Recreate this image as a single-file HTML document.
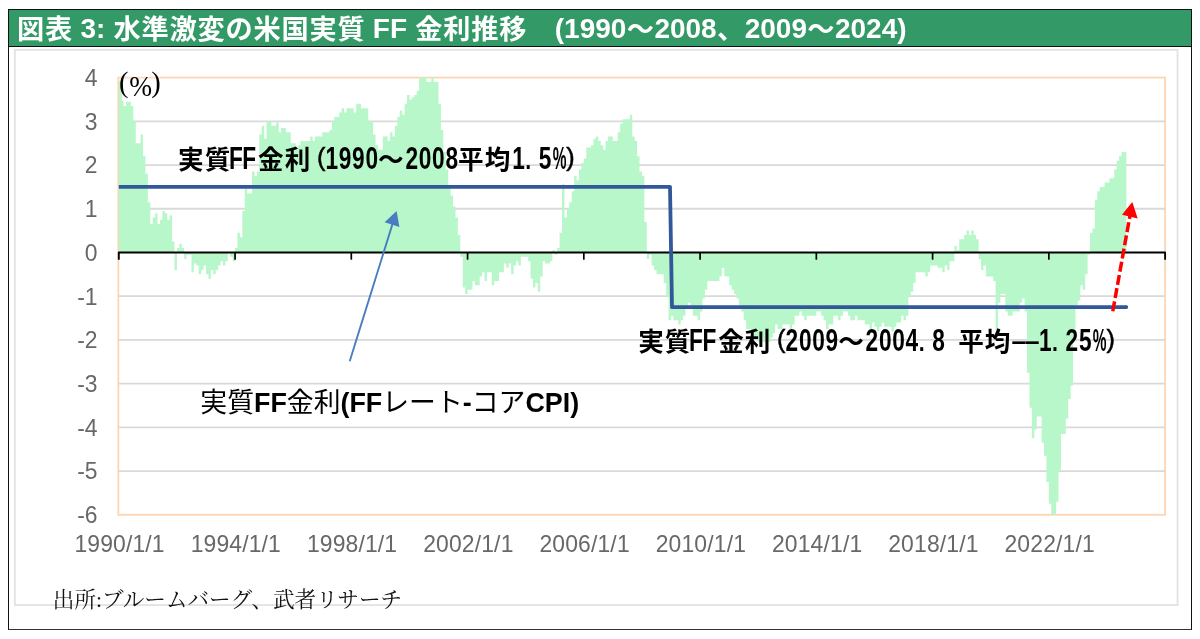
<!DOCTYPE html>
<html lang="ja"><head><meta charset="utf-8"><title>図表 3</title>
<style>
html,body{margin:0;padding:0;background:#fff;}
body{width:1200px;height:639px;overflow:hidden;position:relative;font-family:"Liberation Sans","Noto Sans CJK JP",sans-serif;}
#frame{position:absolute;box-sizing:border-box;left:7.8px;top:8.9px;width:1184.3px;height:620.8px;border-style:solid;border-color:#111 #111 #333 #111;border-width:1.1px 1.2px 1.85px 1.6px;}
#hdr{position:absolute;left:9.2px;top:9.8px;width:1181.8px;height:35.8px;background:#339966;border-bottom:1.3px solid #111;}
#title{position:absolute;left:16.7px;top:10.6px;height:36px;line-height:36px;color:#fff;font-weight:bold;font-size:28.0px;white-space:pre;}
#title .k{font-size:27.2px;letter-spacing:0.8px;position:relative;left:0.4px;top:1.5px;}
#inner{position:absolute;box-sizing:border-box;left:14.1px;top:48.8px;width:1164.1px;height:557px;border:1.5px solid #dcdcdc;}
svg{position:absolute;left:0;top:0;}
.ax{font-family:"Liberation Sans",sans-serif;font-size:22.9px;fill:#686868;}
.xl{letter-spacing:0.15px;}
.gc{font-family:"Liberation Sans","Noto Sans CJK JP",sans-serif;font-weight:bold;font-size:25.6px;fill:#000;}
.pc{font-family:"Liberation Serif",serif;font-size:28.55px;fill:#000;}
.gp{font-family:"Liberation Sans",sans-serif;font-weight:normal;font-size:26.67px;fill:#000;stroke:#000;stroke-width:0.5px;}
.gl{font-family:"Liberation Sans","Noto Sans CJK JP",sans-serif;font-weight:bold;font-size:26.67px;fill:#000;}
.lab{position:absolute;white-space:pre;color:#000;}
#l3{left:200.3px;top:384.8px;font-size:26.85px;line-height:36px;font-weight:400;}
#l3 b{font-weight:bold;}
#src{left:52.8px;top:585.4px;font-family:"Liberation Serif","Noto Serif CJK JP","Noto Serif CJK SC",serif;font-size:21.6px;line-height:30px;color:#111;}
</style></head><body>
<div id="frame"></div>
<div id="hdr"></div>
<div id="title"><span class="k">図表</span> 3: <span class="k">水準激変の米国実質</span> FF <span class="k">金利推移　</span>(1990<span class="k">～</span>2008<span class="k">、</span>2009<span class="k">～</span>2024)</div>
<svg width="1200" height="639" viewBox="0 0 1200 639">
<rect x="14.85" y="49.85" width="1162.7" height="555.2" fill="none" stroke="#e2e2e2" stroke-width="1.8"/>
<rect x="118.35" y="77.6" width="1046.70" height="437.20" fill="none" stroke="#fdd5b3" stroke-width="1.8"/>
<line x1="118.8" x2="1165.1" y1="471.08" y2="471.08" stroke="#d9d9d9" stroke-width="1.8"/>
<line x1="118.8" x2="1165.1" y1="427.36" y2="427.36" stroke="#d9d9d9" stroke-width="1.8"/>
<line x1="118.8" x2="1165.1" y1="383.64" y2="383.64" stroke="#d9d9d9" stroke-width="1.8"/>
<line x1="118.8" x2="1165.1" y1="339.92" y2="339.92" stroke="#d9d9d9" stroke-width="1.8"/>
<line x1="118.8" x2="1165.1" y1="296.20" y2="296.20" stroke="#d9d9d9" stroke-width="1.8"/>
<line x1="118.8" x2="1165.1" y1="208.76" y2="208.76" stroke="#d9d9d9" stroke-width="1.8"/>
<line x1="118.8" x2="1165.1" y1="165.04" y2="165.04" stroke="#d9d9d9" stroke-width="1.8"/>
<line x1="118.8" x2="1165.1" y1="121.32" y2="121.32" stroke="#d9d9d9" stroke-width="1.8"/>

<path d="M118.80 81.10H121.22V252.48H118.80ZM121.22 92.90H123.64V252.48H121.22ZM123.64 106.02H126.07V252.48H123.64ZM126.07 101.65H128.49V252.48H126.07ZM128.49 101.65H130.91V252.48H128.49ZM130.91 106.02H133.33V252.48H130.91ZM133.33 121.32H135.75V252.48H133.33ZM135.75 143.18H138.18V252.48H135.75ZM138.18 143.18H140.60V252.48H138.18ZM140.60 134.44H143.02V252.48H140.60ZM143.02 156.30H145.44V252.48H143.02ZM145.44 173.78H147.86V252.48H145.44ZM147.86 202.20H150.29V252.48H147.86ZM150.29 224.06H152.71V252.48H150.29ZM152.71 217.50H155.13V252.48H152.71ZM155.13 213.13H157.55V252.48H155.13ZM157.55 224.06H159.97V252.48H157.55ZM159.97 219.69H162.40V252.48H159.97ZM162.40 210.95H164.82V252.48H162.40ZM164.82 213.13H167.24V252.48H164.82ZM167.24 219.69H169.66V252.48H167.24ZM169.66 215.32H172.08V252.48H169.66ZM172.08 241.55H174.51V252.48H172.08ZM174.51 252.48H176.93V269.97H174.51ZM176.93 248.11H179.35V252.48H176.93ZM179.35 243.74H181.77V252.48H179.35ZM181.77 248.11H184.19V252.48H181.77ZM184.19 252.48H186.62V259.04H184.19ZM186.62 252.48H189.04V254.67H186.62ZM189.04 252.48H191.46V254.67H189.04ZM191.46 252.48H193.88V272.15H191.46ZM193.88 252.48H196.30V263.41H193.88ZM196.30 252.48H198.73V265.60H196.30ZM198.73 252.48H201.15V274.34H198.73ZM201.15 252.48H203.57V269.97H201.15ZM203.57 252.48H205.99V265.60H203.57ZM205.99 252.48H208.41V274.34H205.99ZM208.41 252.48H210.84V278.71H208.41ZM210.84 252.48H213.26V269.97H210.84ZM213.26 252.48H215.68V274.34H213.26ZM215.68 252.48H218.10V269.97H215.68ZM218.10 252.48H220.52V265.60H218.10ZM220.52 252.48H222.95V261.22H220.52ZM222.95 252.48H225.37V265.60H222.95ZM225.37 252.48H227.79V261.22H225.37ZM227.79 252.48H230.21V252.48H227.79ZM230.21 252.48H232.63V256.85H230.21ZM232.63 252.48H235.06V261.22H232.63ZM235.06 248.11H237.48V252.48H235.06ZM237.48 232.81H239.90V252.48H237.48ZM239.90 237.18H242.32V252.48H239.90ZM242.32 210.95H244.74V252.48H242.32ZM244.74 189.09H247.17V252.48H244.74ZM247.17 193.46H249.59V252.48H247.17ZM249.59 193.46H252.01V252.48H249.59ZM252.01 171.60H254.43V252.48H252.01ZM254.43 175.97H256.85V252.48H254.43ZM256.85 171.60H259.28V252.48H256.85ZM259.28 134.44H261.70V252.48H259.28ZM261.70 125.69H264.12V252.48H261.70ZM264.12 138.81H266.54V252.48H264.12ZM266.54 121.32H268.96V252.48H266.54ZM268.96 121.32H271.39V252.48H268.96ZM271.39 125.69H273.81V252.48H271.39ZM273.81 125.69H276.23V252.48H273.81ZM276.23 121.32H278.65V252.48H276.23ZM278.65 132.25H281.07V252.48H278.65ZM281.07 127.88H283.50V252.48H281.07ZM283.50 127.88H285.92V252.48H283.50ZM285.92 132.25H288.34V252.48H285.92ZM288.34 132.25H290.76V252.48H288.34ZM290.76 143.18H293.18V252.48H290.76ZM293.18 143.18H295.61V252.48H293.18ZM295.61 149.74H298.03V252.48H295.61ZM298.03 145.37H300.45V252.48H298.03ZM300.45 140.99H302.87V252.48H300.45ZM302.87 140.99H305.29V252.48H302.87ZM305.29 140.99H307.72V252.48H305.29ZM307.72 140.99H310.14V252.48H307.72ZM310.14 136.62H312.56V252.48H310.14ZM312.56 140.99H314.98V252.48H312.56ZM314.98 136.62H317.40V252.48H314.98ZM317.40 136.62H319.83V252.48H317.40ZM319.83 136.62H322.25V252.48H319.83ZM322.25 132.25H324.67V252.48H322.25ZM324.67 132.25H327.09V252.48H324.67ZM327.09 132.25H329.51V252.48H327.09ZM329.51 130.06H331.94V252.48H329.51ZM331.94 121.32H334.36V252.48H331.94ZM334.36 116.95H336.78V252.48H334.36ZM336.78 116.95H339.20V252.48H336.78ZM339.20 112.58H341.62V252.48H339.20ZM341.62 108.20H344.05V252.48H341.62ZM344.05 112.58H346.47V252.48H344.05ZM346.47 108.20H348.89V252.48H346.47ZM348.89 108.20H351.31V252.48H348.89ZM351.31 108.20H353.73V252.48H351.31ZM353.73 112.58H356.16V252.48H353.73ZM356.16 103.83H358.58V252.48H356.16ZM358.58 103.83H361.00V252.48H358.58ZM361.00 108.20H363.42V252.48H361.00ZM363.42 108.20H365.84V252.48H363.42ZM365.84 108.20H368.27V252.48H365.84ZM368.27 121.32H370.69V252.48H368.27ZM370.69 121.32H373.11V252.48H370.69ZM373.11 134.44H375.53V252.48H373.11ZM375.53 145.37H377.95V252.48H375.53ZM377.95 149.74H380.38V252.48H377.95ZM380.38 149.74H382.80V252.48H380.38ZM382.80 136.62H385.22V252.48H382.80ZM385.22 136.62H387.64V252.48H385.22ZM387.64 140.99H390.06V252.48H387.64ZM390.06 132.25H392.48V252.48H390.06ZM392.48 136.62H394.91V252.48H392.48ZM394.91 125.69H397.33V252.48H394.91ZM397.33 116.95H399.75V252.48H397.33ZM399.75 110.39H402.17V252.48H399.75ZM402.17 114.76H404.59V252.48H402.17ZM404.59 103.83H407.02V252.48H404.59ZM407.02 95.09H409.44V252.48H407.02ZM409.44 99.46H411.86V252.48H409.44ZM411.86 97.27H414.28V252.48H411.86ZM414.28 95.09H416.70V252.48H414.28ZM416.70 90.72H419.13V252.48H416.70ZM419.13 77.60H421.55V252.48H419.13ZM421.55 77.60H423.97V252.48H421.55ZM423.97 77.60H426.39V252.48H423.97ZM426.39 81.97H428.81V252.48H426.39ZM428.81 81.97H431.24V252.48H428.81ZM431.24 77.60H433.66V252.48H431.24ZM433.66 81.97H436.08V252.48H433.66ZM436.08 81.97H438.50V252.48H436.08ZM438.50 103.83H440.92V252.48H438.50ZM440.92 130.06H443.35V252.48H440.92ZM443.35 151.92H445.77V252.48H443.35ZM445.77 169.41H448.19V252.48H445.77ZM448.19 186.90H450.61V252.48H448.19ZM450.61 195.64H453.03V252.48H450.61ZM453.03 206.57H455.46V252.48H453.03ZM455.46 217.50H457.88V252.48H455.46ZM457.88 234.99H460.30V252.48H457.88ZM460.30 252.48H462.72V256.85H460.30ZM462.72 252.48H465.14V287.46H462.72ZM465.14 252.48H467.57V294.01H465.14ZM467.57 252.48H469.99V289.64H467.57ZM469.99 252.48H472.41V289.64H469.99ZM472.41 252.48H474.83V280.90H472.41ZM474.83 252.48H477.25V285.27H474.83ZM477.25 252.48H479.68V285.27H477.25ZM479.68 252.48H482.10V276.53H479.68ZM482.10 252.48H484.52V272.15H482.10ZM484.52 252.48H486.94V280.90H484.52ZM486.94 252.48H489.36V272.15H486.94ZM489.36 252.48H491.79V272.15H489.36ZM491.79 252.48H494.21V285.27H491.79ZM494.21 252.48H496.63V280.90H494.21ZM496.63 252.48H499.05V280.90H496.63ZM499.05 252.48H501.47V272.15H499.05ZM501.47 252.48H503.90V272.15H501.47ZM503.90 252.48H506.32V263.41H503.90ZM506.32 252.48H508.74V267.78H506.32ZM508.74 252.48H511.16V263.41H508.74ZM511.16 252.48H513.58V274.34H511.16ZM513.58 252.48H516.01V265.60H513.58ZM516.01 252.48H518.43V261.22H516.01ZM518.43 252.48H520.85V265.60H518.43ZM520.85 252.48H523.27V256.85H520.85ZM523.27 252.48H525.69V256.85H523.27ZM525.69 252.48H528.12V256.85H525.69ZM528.12 252.48H530.54V261.22H528.12ZM530.54 252.48H532.96V278.71H530.54ZM532.96 252.48H535.38V287.46H532.96ZM535.38 252.48H537.80V283.08H535.38ZM537.80 252.48H540.23V291.83H537.80ZM540.23 252.48H542.65V276.53H540.23ZM542.65 252.48H545.07V261.22H542.65ZM545.07 252.48H547.49V263.41H545.07ZM547.49 252.48H549.91V263.41H547.49ZM549.91 252.48H552.34V261.22H549.91ZM552.34 250.29H554.76V252.48H552.34ZM554.76 252.48H557.18V254.67H554.76ZM557.18 248.11H559.60V252.48H557.18ZM559.60 232.81H562.02V252.48H559.60ZM562.02 184.28H564.45V252.48H562.02ZM564.45 217.50H566.87V252.48H564.45ZM566.87 208.76H569.29V252.48H566.87ZM569.29 202.20H571.71V252.48H569.29ZM571.71 191.27H574.13V252.48H571.71ZM574.13 175.97H576.56V252.48H574.13ZM576.56 180.34H578.98V252.48H576.56ZM578.98 169.41H581.40V252.48H578.98ZM581.40 162.85H583.82V252.48H581.40ZM583.82 158.48H586.24V252.48H583.82ZM586.24 147.55H588.67V252.48H586.24ZM588.67 147.55H591.09V252.48H588.67ZM591.09 145.37H593.51V252.48H591.09ZM593.51 138.81H595.93V252.48H593.51ZM595.93 136.62H598.35V252.48H595.93ZM598.35 140.99H600.78V252.48H598.35ZM600.78 145.37H603.20V252.48H600.78ZM603.20 149.74H605.62V252.48H603.20ZM605.62 140.99H608.04V252.48H605.62ZM608.04 136.62H610.46V252.48H608.04ZM610.46 136.62H612.89V252.48H610.46ZM612.89 140.99H615.31V252.48H612.89ZM615.31 140.99H617.73V252.48H615.31ZM617.73 132.25H620.15V252.48H617.73ZM620.15 123.51H622.57V252.48H620.15ZM622.57 119.13H625.00V252.48H622.57ZM625.00 119.13H627.42V252.48H625.00ZM627.42 119.13H629.84V252.48H627.42ZM629.84 114.76H632.26V252.48H629.84ZM632.26 136.62H634.68V252.48H632.26ZM634.68 140.99H637.11V252.48H634.68ZM637.11 156.30H639.53V252.48H637.11ZM639.53 171.60H641.95V252.48H639.53ZM641.95 175.97H644.37V252.48H641.95ZM644.37 221.88H646.79V252.48H644.37ZM646.79 252.48H649.22V259.04H646.79ZM649.22 252.48H651.64V254.67H649.22ZM651.64 252.48H654.06V265.60H651.64ZM654.06 252.48H656.48V269.97H654.06ZM656.48 252.48H658.90V274.34H656.48ZM658.90 252.48H661.33V274.34H658.90ZM661.33 252.48H663.75V274.34H661.33ZM663.75 252.48H666.17V283.08H663.75ZM666.17 252.48H668.59V296.20H666.17ZM668.59 252.48H671.01V320.25H668.59ZM671.01 252.48H673.44V315.87H671.01ZM673.44 252.48H675.86V320.25H673.44ZM675.86 252.48H678.28V320.25H675.86ZM678.28 252.48H680.70V324.62H678.28ZM680.70 252.48H683.12V320.25H680.70ZM683.12 252.48H685.55V315.87H683.12ZM685.55 252.48H687.97V307.13H685.55ZM687.97 252.48H690.39V302.76H687.97ZM690.39 252.48H692.81V307.13H690.39ZM692.81 252.48H695.23V315.87H692.81ZM695.23 252.48H697.66V315.87H695.23ZM697.66 252.48H700.08V320.25H697.66ZM700.08 252.48H702.50V311.50H700.08ZM702.50 252.48H704.92V298.39H702.50ZM704.92 252.48H707.34V289.64H704.92ZM707.34 252.48H709.77V280.90H707.34ZM709.77 252.48H712.19V280.90H709.77ZM712.19 252.48H714.61V280.90H712.19ZM714.61 252.48H717.03V280.90H714.61ZM717.03 252.48H719.45V280.90H717.03ZM719.45 252.48H721.88V276.53H719.45ZM721.88 252.48H724.30V267.78H721.88ZM724.30 252.48H726.72V276.53H724.30ZM726.72 252.48H729.14V276.53H726.72ZM729.14 252.48H731.56V285.27H729.14ZM731.56 252.48H733.99V289.64H731.56ZM733.99 252.48H736.41V294.01H733.99ZM736.41 252.48H738.83V298.39H736.41ZM738.83 252.48H741.25V307.13H738.83ZM741.25 252.48H743.67V311.50H741.25ZM743.67 252.48H746.10V320.25H743.67ZM746.10 252.48H748.52V328.99H746.10ZM748.52 252.48H750.94V328.99H748.52ZM750.94 252.48H753.36V333.36H750.94ZM753.36 252.48H755.78V337.73H753.36ZM755.78 252.48H758.21V337.73H755.78ZM758.21 252.48H760.63V342.11H758.21ZM760.63 252.48H763.05V337.73H760.63ZM763.05 252.48H765.47V342.11H763.05ZM765.47 252.48H767.89V342.11H765.47ZM767.89 252.48H770.32V342.11H767.89ZM770.32 252.48H772.74V337.73H770.32ZM772.74 252.48H775.16V333.36H772.74ZM775.16 252.48H777.58V324.62H775.16ZM777.58 252.48H780.00V328.99H777.58ZM780.00 252.48H782.43V328.99H780.00ZM782.43 252.48H784.85V324.62H782.43ZM784.85 252.48H787.27V324.62H784.85ZM787.27 252.48H789.69V324.62H787.27ZM789.69 252.48H792.11V328.99H789.69ZM792.11 252.48H794.54V324.62H792.11ZM794.54 252.48H796.96V315.87H794.54ZM796.96 252.48H799.38V315.87H796.96ZM799.38 252.48H801.80V311.50H799.38ZM801.80 252.48H804.22V315.87H801.80ZM804.22 252.48H806.65V320.25H804.22ZM806.65 252.48H809.07V315.87H806.65ZM809.07 252.48H811.49V315.87H809.07ZM811.49 252.48H813.91V315.87H811.49ZM813.91 252.48H816.33V315.87H813.91ZM816.33 252.48H818.76V311.50H816.33ZM818.76 252.48H821.18V311.50H818.76ZM821.18 252.48H823.60V315.87H821.18ZM823.60 252.48H826.02V320.25H823.60ZM826.02 252.48H828.44V328.99H826.02ZM828.44 252.48H830.87V324.62H828.44ZM830.87 252.48H833.29V324.62H830.87ZM833.29 252.48H835.71V315.87H833.29ZM835.71 252.48H838.13V315.87H835.71ZM838.13 252.48H840.55V320.25H838.13ZM840.55 252.48H842.98V315.87H840.55ZM842.98 252.48H845.40V311.50H842.98ZM845.40 252.48H847.82V311.50H845.40ZM847.82 252.48H850.24V315.87H847.82ZM850.24 252.48H852.66V320.25H850.24ZM852.66 252.48H855.09V320.25H852.66ZM855.09 252.48H857.51V315.87H855.09ZM857.51 252.48H859.93V320.25H857.51ZM859.93 252.48H862.35V320.25H859.93ZM862.35 252.48H864.77V320.25H862.35ZM864.77 252.48H867.20V324.62H864.77ZM867.20 252.48H869.62V324.62H867.20ZM869.62 252.48H872.04V328.99H869.62ZM872.04 252.48H874.46V322.43H872.04ZM874.46 252.48H876.88V326.80H874.46ZM876.88 252.48H879.31V331.18H876.88ZM879.31 252.48H881.73V326.80H879.31ZM881.73 252.48H884.15V322.43H881.73ZM884.15 252.48H886.57V326.80H884.15ZM886.57 252.48H888.99V326.80H886.57ZM888.99 252.48H891.42V326.80H888.99ZM891.42 252.48H893.84V331.18H891.42ZM893.84 252.48H896.26V326.80H893.84ZM896.26 252.48H898.68V322.43H896.26ZM898.68 252.48H901.10V322.43H898.68ZM901.10 252.48H903.52V315.87H901.10ZM903.52 252.48H905.95V320.25H903.52ZM905.95 252.48H908.37V315.87H905.95ZM908.37 252.48H910.79V296.20H908.37ZM910.79 252.48H913.21V291.83H910.79ZM913.21 252.48H915.63V283.08H913.21ZM915.63 252.48H918.06V272.15H915.63ZM918.06 252.48H920.48V272.15H918.06ZM920.48 252.48H922.90V272.15H920.48ZM922.90 252.48H925.32V272.15H922.90ZM925.32 252.48H927.74V276.53H925.32ZM927.74 252.48H930.17V272.15H927.74ZM930.17 252.48H932.59V265.60H930.17ZM932.59 252.48H935.01V265.60H932.59ZM935.01 252.48H937.43V265.60H935.01ZM937.43 252.48H939.85V267.78H937.43ZM939.85 252.48H942.28V267.78H939.85ZM942.28 252.48H944.70V272.15H942.28ZM944.70 252.48H947.12V265.60H944.70ZM947.12 252.48H949.54V269.97H947.12ZM949.54 252.48H951.96V261.22H949.54ZM951.96 252.48H954.39V261.22H951.96ZM954.39 245.92H956.81V252.48H954.39ZM956.81 250.29H959.23V252.48H956.81ZM959.23 239.36H961.65V252.48H959.23ZM961.65 239.36H964.07V252.48H961.65ZM964.07 234.99H966.50V252.48H964.07ZM966.50 230.62H968.92V252.48H966.50ZM968.92 234.99H971.34V252.48H968.92ZM971.34 230.62H973.76V252.48H971.34ZM973.76 234.99H976.18V252.48H973.76ZM976.18 239.36H978.61V252.48H976.18ZM978.61 252.48H981.03V259.04H978.61ZM981.03 252.48H983.45V269.97H981.03ZM983.45 252.48H985.87V265.60H983.45ZM985.87 252.48H988.29V276.53H985.87ZM988.29 252.48H990.72V276.53H988.29ZM990.72 252.48H993.14V276.53H990.72ZM993.14 252.48H995.56V280.90H993.14ZM995.56 252.48H997.98V333.36H995.56ZM997.98 252.48H1000.40V302.76H997.98ZM1000.40 252.48H1002.83V294.01H1000.40ZM1002.83 252.48H1005.25V294.01H1002.83ZM1005.25 252.48H1007.67V311.50H1005.25ZM1007.67 252.48H1010.09V315.87H1007.67ZM1010.09 252.48H1012.51V315.87H1010.09ZM1012.51 252.48H1014.94V311.50H1012.51ZM1014.94 252.48H1017.36V311.50H1014.94ZM1017.36 252.48H1019.78V311.50H1017.36ZM1019.78 252.48H1022.20V302.76H1019.78ZM1022.20 252.48H1024.62V298.39H1022.20ZM1024.62 252.48H1027.05V311.50H1024.62ZM1027.05 252.48H1029.47V372.71H1027.05ZM1029.47 252.48H1031.89V407.69H1029.47ZM1031.89 252.48H1034.31V438.29H1031.89ZM1034.31 252.48H1036.73V429.55H1034.31ZM1036.73 252.48H1039.16V416.43H1036.73ZM1039.16 252.48H1041.58V416.43H1039.16ZM1041.58 252.48H1044.00V442.66H1041.58ZM1044.00 252.48H1046.42V455.78H1044.00ZM1046.42 252.48H1048.84V482.01H1046.42ZM1048.84 252.48H1051.27V503.87H1048.84ZM1051.27 252.48H1053.69V514.80H1051.27ZM1053.69 252.48H1056.11V514.80H1053.69ZM1056.11 252.48H1058.53V501.68H1056.11ZM1058.53 252.48H1060.95V471.08H1058.53ZM1060.95 252.48H1063.38V433.92H1060.95ZM1063.38 252.48H1065.80V433.92H1063.38ZM1065.80 252.48H1068.22V418.62H1065.80ZM1068.22 252.48H1070.64V398.94H1068.22ZM1070.64 252.48H1073.06V385.83H1070.64ZM1073.06 252.48H1075.49V339.92H1073.06ZM1075.49 252.48H1077.91V304.94H1075.49ZM1077.91 252.48H1080.33V300.57H1077.91ZM1080.33 252.48H1082.75V285.27H1080.33ZM1082.75 252.48H1085.17V289.64H1082.75ZM1085.17 252.48H1087.60V274.34H1085.17ZM1087.60 252.48H1090.02V254.67H1087.60ZM1090.02 232.81H1092.44V252.48H1090.02ZM1092.44 228.43H1094.86V252.48H1092.44ZM1094.86 200.02H1097.28V252.48H1094.86ZM1097.28 191.27H1099.71V252.48H1097.28ZM1099.71 186.90H1102.13V252.48H1099.71ZM1102.13 186.90H1104.55V252.48H1102.13ZM1104.55 182.53H1106.97V252.48H1104.55ZM1106.97 182.53H1109.39V252.48H1106.97ZM1109.39 178.16H1111.82V252.48H1109.39ZM1111.82 178.16H1114.24V252.48H1111.82ZM1114.24 169.41H1116.66V252.48H1114.24ZM1116.66 160.67H1119.08V252.48H1116.66ZM1119.08 156.30H1121.50V252.48H1119.08ZM1121.50 151.92H1123.93V252.48H1121.50ZM1123.93 151.92H1126.35V252.48H1123.93Z" fill="#b8f7c9"/>
<rect x="122" y="66" width="38" height="34.8" fill="#fff"/>
<line x1="121.5" x2="160.5" y1="77.6" y2="77.6" stroke="#fdd5b3" stroke-width="1.8" opacity="0.75"/>
<polyline points="118.80,259.78 118.80,252.48 1165.10,252.48 1165.10,259.78" fill="none" stroke="#000" stroke-width="1.9" stroke-linejoin="round"/>
<line x1="235.06" x2="235.06" y1="252.48" y2="259.68" stroke="#000" stroke-width="1.7"/>
<line x1="351.31" x2="351.31" y1="252.48" y2="259.68" stroke="#000" stroke-width="1.7"/>
<line x1="467.57" x2="467.57" y1="252.48" y2="259.68" stroke="#000" stroke-width="1.7"/>
<line x1="583.82" x2="583.82" y1="252.48" y2="259.68" stroke="#000" stroke-width="1.7"/>
<line x1="700.08" x2="700.08" y1="252.48" y2="259.68" stroke="#000" stroke-width="1.7"/>
<line x1="816.33" x2="816.33" y1="252.48" y2="259.68" stroke="#000" stroke-width="1.7"/>
<line x1="932.59" x2="932.59" y1="252.48" y2="259.68" stroke="#000" stroke-width="1.7"/>
<line x1="1048.84" x2="1048.84" y1="252.48" y2="259.68" stroke="#000" stroke-width="1.7"/>

<text transform="translate(97.5,523.20) scale(1,1.045)" text-anchor="end" class="ax">-6</text>
<text transform="translate(97.5,479.48) scale(1,1.045)" text-anchor="end" class="ax">-5</text>
<text transform="translate(97.5,435.76) scale(1,1.045)" text-anchor="end" class="ax">-4</text>
<text transform="translate(97.5,392.04) scale(1,1.045)" text-anchor="end" class="ax">-3</text>
<text transform="translate(97.5,348.32) scale(1,1.045)" text-anchor="end" class="ax">-2</text>
<text transform="translate(97.5,304.60) scale(1,1.045)" text-anchor="end" class="ax">-1</text>
<text transform="translate(97.5,260.88) scale(1,1.045)" text-anchor="end" class="ax">0</text>
<text transform="translate(97.5,217.16) scale(1,1.045)" text-anchor="end" class="ax">1</text>
<text transform="translate(97.5,173.44) scale(1,1.045)" text-anchor="end" class="ax">2</text>
<text transform="translate(97.5,129.72) scale(1,1.045)" text-anchor="end" class="ax">3</text>
<text transform="translate(97.5,86.00) scale(1,1.045)" text-anchor="end" class="ax">4</text>

<text transform="translate(119.60,551.5) scale(1,1.045)" text-anchor="middle" class="ax xl">1990/1/1</text>
<text transform="translate(235.86,551.5) scale(1,1.045)" text-anchor="middle" class="ax xl">1994/1/1</text>
<text transform="translate(352.11,551.5) scale(1,1.045)" text-anchor="middle" class="ax xl">1998/1/1</text>
<text transform="translate(468.37,551.5) scale(1,1.045)" text-anchor="middle" class="ax xl">2002/1/1</text>
<text transform="translate(584.62,551.5) scale(1,1.045)" text-anchor="middle" class="ax xl">2006/1/1</text>
<text transform="translate(700.88,551.5) scale(1,1.045)" text-anchor="middle" class="ax xl">2010/1/1</text>
<text transform="translate(817.13,551.5) scale(1,1.045)" text-anchor="middle" class="ax xl">2014/1/1</text>
<text transform="translate(933.39,551.5) scale(1,1.045)" text-anchor="middle" class="ax xl">2018/1/1</text>
<text transform="translate(1049.64,551.5) scale(1,1.045)" text-anchor="middle" class="ax xl">2022/1/1</text>

<polyline points="118.8,186.9 670.0,186.9 672.0,307.1 1126.3,307.1" fill="none" stroke="#33589a" stroke-width="3.8" stroke-linejoin="round"/>
<circle cx="1126.3" cy="307.1" r="1.9" fill="#33589a"/>
<line x1="349.7" y1="361.3" x2="393.5" y2="220.8" stroke="#4a7dc0" stroke-width="1.9"/>
<polygon points="396.6,210.9 384.6,222.2 399.4,226.9" fill="#4a7dc0"/>
<line x1="1112.8" y1="311.2" x2="1130.0" y2="215.5" stroke="#ff0000" stroke-width="3.5" stroke-dasharray="10 3.4"/>
<polygon points="1132.3,201.9 1122.0,214.7 1137.7,218.5" fill="#ff0000"/>
<text class="pc" x="118.94" y="92.3">(</text><text class="pc" transform="translate(129.2,96.4) scale(0.96,1.03)">%</text><text class="pc" x="151.3" y="92.3">)</text>
<text class="gc" text-anchor="middle" x="190.84 217.51" y="168.70">実質</text>
<text class="gl" text-anchor="middle" transform="translate(235.91,169.20) scale(0.85,1.19)" x="0.00 15.69" y="0">FF</text>
<text class="gc" text-anchor="middle" x="270.85 297.52" y="168.70">金利</text>
<text class="gp" text-anchor="middle" transform="translate(321.12,165.90) scale(0.95,0.98)" x="0.00" y="0">(</text>
<text class="gl" text-anchor="middle" transform="translate(331.75,169.20) scale(0.85,1.19)" x="0.00 15.69 31.38 47.06" y="0">1990</text>
<text class="gc" text-anchor="middle" x="390.86" y="168.70">～</text>
<text class="gl" text-anchor="middle" transform="translate(411.76,169.20) scale(0.85,1.19)" x="0.00 15.69 31.38 47.06" y="0">2008</text>
<text class="gc" text-anchor="middle" x="470.87 497.54" y="168.70">平均</text>
<text class="gl" text-anchor="middle" transform="translate(518.44,169.20) scale(0.85,1.19)" x="0.00" y="0">1</text>
<text class="gl" text-anchor="middle" transform="translate(528.28,169.20) scale(0.8,1.0)" x="0.00" y="0">.</text>
<text class="gl" text-anchor="middle" transform="translate(545.11,169.20) scale(0.85,1.19)" x="0.00" y="0">5</text>
<text class="gl" text-anchor="middle" transform="translate(559.55,169.20) scale(0.58,1.19)" x="0.00" y="0">%</text>
<text class="gp" text-anchor="middle" transform="translate(570.58,165.90) scale(0.95,0.98)" x="0.00" y="0">)</text>
<text class="gc" text-anchor="middle" x="650.94 677.61" y="350.80">実質</text>
<text class="gl" text-anchor="middle" transform="translate(696.01,351.30) scale(0.85,1.19)" x="0.00 15.69" y="0">FF</text>
<text class="gc" text-anchor="middle" x="730.95 757.62" y="350.80">金利</text>
<text class="gp" text-anchor="middle" transform="translate(781.22,348.00) scale(0.95,0.98)" x="0.00" y="0">(</text>
<text class="gl" text-anchor="middle" transform="translate(791.85,351.30) scale(0.85,1.19)" x="0.00 15.69 31.38 47.06" y="0">2009</text>
<text class="gc" text-anchor="middle" x="850.96" y="350.80">～</text>
<text class="gl" text-anchor="middle" transform="translate(871.86,351.30) scale(0.85,1.19)" x="0.00 15.69 31.38 47.06" y="0">2004</text>
<text class="gl" text-anchor="middle" transform="translate(921.70,351.30) scale(0.8,1.0)" x="0.00" y="0">.</text>
<text class="gl" text-anchor="middle" transform="translate(938.54,351.30) scale(0.85,1.19)" x="0.00" y="0">8</text>
<text class="gc" text-anchor="middle" x="970.98 997.65" y="350.80">平均</text>
<text class="gl" text-anchor="middle" transform="translate(1018.85,347.60) scale(1.95,0.8)" x="0.00" y="0">-</text>
<text class="gl" text-anchor="middle" transform="translate(1032.18,347.60) scale(1.95,0.8)" x="0.00" y="0">-</text>
<text class="gl" text-anchor="middle" transform="translate(1045.22,351.30) scale(0.85,1.19)" x="0.00" y="0">1</text>
<text class="gl" text-anchor="middle" transform="translate(1055.05,351.30) scale(0.8,1.0)" x="0.00" y="0">.</text>
<text class="gl" text-anchor="middle" transform="translate(1071.89,351.30) scale(0.85,1.19)" x="0.00 15.69" y="0">25</text>
<text class="gl" text-anchor="middle" transform="translate(1099.66,351.30) scale(0.58,1.19)" x="0.00" y="0">%</text>
<text class="gp" text-anchor="middle" transform="translate(1110.69,348.00) scale(0.95,0.98)" x="0.00" y="0">)</text>
</svg>
<div class="lab" id="l3">実質<b>FF</b>金利<b>(FF</b>レート<b>-</b>コア<b>CPI)</b></div>
<div class="lab" id="src">出所:ブルームバーグ、武者リサーチ</div>
</body></html>
